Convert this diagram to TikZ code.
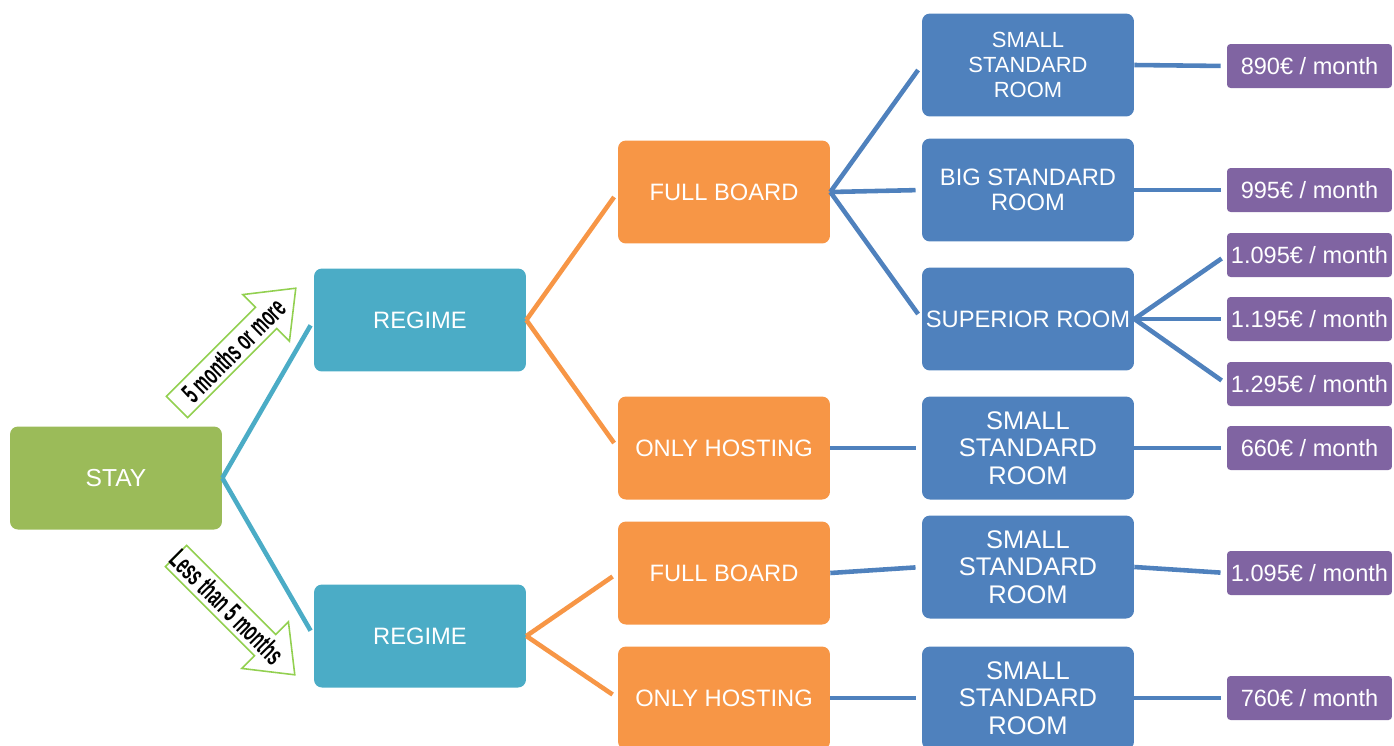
\documentclass[tikz,border=0pt]{standalone}
\usepackage{fontspec}
\setmainfont{Liberation Sans}
\newfontfamily\hepfont[FakeStretch=0.56]{Liberation Sans}
\definecolor{stayG}{HTML}{9BBB59}
\definecolor{regimeT}{HTML}{4BACC6}
\definecolor{boardO}{HTML}{F79646}
\definecolor{roomB}{HTML}{4F81BD}
\definecolor{priceP}{HTML}{8064A2}
\definecolor{arrowG}{HTML}{92D050}
\tikzset{
  box/.style={rectangle, rounded corners=4.5pt, minimum width=4.24cm, minimum height=2.06cm,
    inner sep=0pt, align=center, text=white, font=\fontsize{13.5}{14.2}\selectfont},
  stay/.style={box, fill=stayG, font=\fontsize{14}{15}\selectfont},
  regime/.style={box, fill=regimeT},
  board/.style={box, fill=boardO},
  room/.style={box, fill=roomB},
  bigroom/.style={room, font=\fontsize{14.5}{15.5}\selectfont},
  price/.style={rectangle, rounded corners=2pt, minimum width=3.3cm, minimum height=0.88cm,
    inner sep=0pt, fill=priceP, text=white, font=\fontsize{13.4}{14}\selectfont},
  link/.style={line width=2.6pt, shorten >=3.5pt},
  arrowline/.style={draw=arrowG, line width=0.9pt, fill=white, line join=miter},
  hep/.style={inner sep=0pt, font=\hepfont\bfseries\fontsize{16}{16}\selectfont}
}
\begin{document}
\begin{tikzpicture}[x=0.02cm, y=-0.02cm]
  \path[use as bounding box, clip] (0,0) rectangle (1394,745); % khung trang
  % cac o chinh
  \node[stay] (stay) at (116,478) {STAY};
  \node[regime] (reg1) at (420,320) {REGIME};
  \node[regime] (reg2) at (420,636) {REGIME};
  \node[board] (fb1) at (724,192) {FULL BOARD};
  \node[board] (oh1) at (724,448) {ONLY HOSTING};
  \node[board] (fb2) at (724,573) {FULL BOARD};
  \node[board] (oh2) at (724,698) {ONLY HOSTING};
  \node[room, font=\fontsize{12.5}{14.2}\selectfont] (r1) at (1028,65) {SMALL\\STANDARD\\ROOM};
  \node[room] (r2) at (1028,190) {BIG STANDARD\\ROOM};
  \node[room] (r3) at (1028,319) {SUPERIOR ROOM};
  \node[bigroom] (r4) at (1028,448) {SMALL\\STANDARD\\ROOM};
  \node[bigroom] (r5) at (1028,567) {SMALL\\STANDARD\\ROOM};
  \node[bigroom] (r6) at (1028,698) {SMALL\\STANDARD\\ROOM};
  % gia
  \foreach \ten/\y/\gia in {p1/66/890, p2/190/995, p3/255/1.095, p4/319/1.195,
      p5/384/1.295, p6/448/660, p7/573/1.095, p8/698/760}
    \node[price] (\ten) at (1309.5,\y) {\gia€ / month};
  % duong noi
  \foreach \a/\b/\c in {stay/reg1/regimeT, stay/reg2/regimeT, reg1/fb1/boardO, reg1/oh1/boardO,
      reg2/fb2/boardO, reg2/oh2/boardO, fb1/r1/roomB, fb1/r2/roomB, fb1/r3/roomB, oh1/r4/roomB,
      fb2/r5/roomB, oh2/r6/roomB, r1/p1/roomB, r2/p2/roomB, r3/p3/roomB, r3/p4/roomB,
      r3/p5/roomB, r4/p6/roomB, r5/p7/roomB, r6/p8/roomB}
    \draw[link, \c] (\a.east) -- (\b.west);
  % mui ten thoi gian
  \foreach \xa/\ya/\goc/\u/\ten/\chu in {177/407/45/80/lab1/5 months or more,
      176/556/-45/72/lab2/Less than 5 months}{
    \begin{scope}[shift={(\xa,\ya)}, rotate=\goc]
      \draw[arrowline] (0,-15) -- (126,-15) -- (126,-33) -- (168,0) -- (126,33) -- (126,15) -- (0,15) -- cycle;
      \node[hep, rotate=\goc] (\ten) at (\u,0) {\chu};
    \end{scope}
  }
\end{tikzpicture}
\end{document}
